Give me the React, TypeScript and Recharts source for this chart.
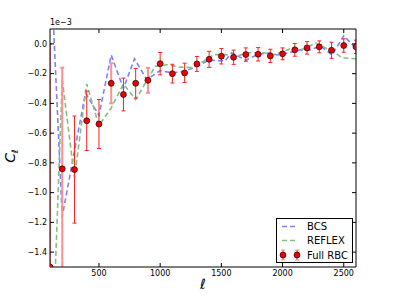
import React from 'react';
import { ComposedChart, Line, Scatter, XAxis, YAxis, ErrorBar, Legend, Label } from 'recharts';

// multipole bins of the Full RBC measurement
const ELL = [100, 200, 300, 400, 500, 600, 700, 800, 900, 1000, 1100, 1200, 1300, 1400, 1500, 1600, 1700, 1800, 1900, 2000, 2100, 2200, 2300, 2400, 2500, 2600];
// C_ell values (in units of 1e-3)
const RBC_CL = [-1.5, -0.84, -0.845, -0.517, -0.539, -0.265, -0.34, -0.265, -0.245, -0.133, -0.2, -0.195, -0.135, -0.104, -0.083, -0.09, -0.072, -0.07, -0.081, -0.067, -0.04, -0.027, -0.02, -0.043, -0.011, -0.02];
const RBC_ERR = [1.5, 0.68, 0.36, 0.2, 0.165, 0.135, 0.11, 0.1, 0.084, 0.075, 0.063, 0.065, 0.05, 0.054, 0.052, 0.048, 0.045, 0.045, 0.045, 0.04, 0.043, 0.042, 0.04, 0.054, 0.045, 0.045];
// bins whose error bars appear in the paler red
const RBC_PALE_BINS = [200, 600, 900];

const BCS_ELL = [100, 200, 300, 390, 500, 600, 700, 790, 890, 1000, 1100, 1200, 1300, 1400, 1530, 1585, 1700, 1800, 1900, 1955, 2050, 2145, 2225, 2310, 2405, 2500, 2600];
const BCS_CL = [0.63, -1.16, -0.72, -0.33, -0.48, -0.075, -0.3, -0.1, -0.24, -0.18, -0.195, -0.185, -0.15, -0.11, -0.115, -0.06, -0.11, -0.07, -0.06, -0.075, -0.06, -0.04, -0.04, -0.015, -0.075, 0.055, -0.03];

const REFLEX_ELL = [100, 200, 300, 400, 500, 600, 700, 800, 960, 1060, 1150, 1260, 1356, 1437, 1530, 1628, 1710, 1845, 1930, 2015, 2080, 2160, 2270, 2350, 2430, 2485, 2600];
const REFLEX_CL = [-2.5, -0.24, -0.9, -0.27, -0.55, -0.43, -0.27, -0.375, -0.15, -0.14, -0.155, -0.16, -0.117, -0.072, -0.072, -0.083, -0.06, -0.06, -0.072, -0.05, -0.027, -0.038, 0.005, -0.027, -0.06, -0.094, -0.1];

const X_TICKS = [500, 1000, 1500, 2000, 2500];
const Y_TICKS = [-1.4, -1.2, -1.0, -0.8, -0.6, -0.4, -0.2, 0.0];
const X_DOMAIN = [100, 2600];
const Y_DOMAIN = [-1.5, 0.1];
const SERIES_NAMES = ['BCS', 'REFLEX', 'Full RBC'];
const OFFSET_TEXT = '1e\u22123';

const rbcData = ELL.map((l, i) => {
  const pale = RBC_PALE_BINS.includes(l);
  return { l, v: RBC_CL[i], errDark: pale ? 0 : RBC_ERR[i], errPale: pale ? RBC_ERR[i] : 0 };
});
const bcsData = BCS_ELL.map((l, i) => ({ l, v: BCS_CL[i] }));
const reflexData = REFLEX_ELL.map((l, i) => ({ l, v: REFLEX_CL[i] }));

const FONT = 'DejaVu Sans';
const BLUE = '#8080ff';
const GREEN = '#80c080';
const RED = '#ff2020';
const PALE = '#ff9090';
const CLIP_ID = 'rbcPlotClip';

const fmtY = (v: number) => (v < 0 ? '\u2212' : '') + Math.abs(v).toFixed(1);

const Dot = (props: any) => {
  const { cx, cy } = props;
  if (cx == null || cy == null) return <g />;
  return <circle cx={cx} cy={cy} r={3} fill="#ee0000" stroke="#000" strokeWidth={0.6} />;
};

const renderLegend = () => (
  <svg width={77} height={45} style={{ display: 'block', fontFamily: FONT }}>
    <rect x={0.5} y={0.5} width={76} height={44} fill="#fff" stroke="#000" strokeWidth={1} />
    <line x1={6} y1={8.5} x2={21} y2={8.5} stroke={BLUE} strokeWidth={1.5} strokeDasharray="5 3" />
    <text x={31} y={12} fontSize={10} fill="#000">{SERIES_NAMES[0]}</text>
    <line x1={6} y1={22.5} x2={21} y2={22.5} stroke={GREEN} strokeWidth={1.5} strokeDasharray="5 3" />
    <text x={31} y={26} fontSize={10} fill="#000">{SERIES_NAMES[1]}</text>
    {[7, 21].map((x) => (
      <g key={x}>
        <line x1={x} y1={32} x2={x} y2={42} stroke={RED} strokeWidth={1} />
        <line x1={x - 2} y1={32} x2={x + 2} y2={32} stroke={PALE} strokeWidth={1} />
        <line x1={x - 2} y1={42} x2={x + 2} y2={42} stroke={PALE} strokeWidth={1} />
        <circle cx={x} cy={37} r={3} fill="#ee0000" stroke="#000" strokeWidth={0.6} />
      </g>
    ))}
    <text x={31} y={40.5} fontSize={10} fill="#000">{SERIES_NAMES[2]}</text>
  </svg>
);

const tickStyle = { fontSize: 8, fill: '#000', fontFamily: FONT };
const emptyTick = () => <g />;

export default function App() {
  return (
    <div style={{ position: 'absolute', left: 0, top: 0, width: 396, height: 297, background: '#fff' }}>
      <style>{`.recharts-scatter, .recharts-errorBar { clip-path: url(#${CLIP_ID}); }`}</style>
      <ComposedChart width={396} height={297} margin={{ top: 28, right: 39, bottom: 0, left: 0 }}>
        <XAxis
          dataKey="l"
          type="number"
          domain={X_DOMAIN}
          ticks={X_TICKS}
          allowDataOverflow
          height={30}
          tickSize={-4}
          tickMargin={7}
          tick={tickStyle}
          axisLine={{ stroke: '#000', strokeWidth: 1 }}
          tickLine={{ stroke: '#000' }}
        >
          <Label
            content={(p: any) => {
              const vb = p.viewBox || {};
              return (
                <g>
                  <defs>
                    <clipPath id={CLIP_ID}>
                      <rect x={vb.x} y={0} width={vb.width} height={vb.y} />
                    </clipPath>
                  </defs>
                  <text x={203} y={289} fontSize={14} fontStyle="italic" textAnchor="middle" fontFamily={FONT} fill="#000">
                    {'\u2113'}
                  </text>
                </g>
              );
            }}
          />
        </XAxis>
        <XAxis
          xAxisId="top"
          orientation="top"
          dataKey="l"
          type="number"
          domain={X_DOMAIN}
          ticks={X_TICKS}
          allowDataOverflow
          height={1}
          tickSize={-4}
          tick={emptyTick}
          axisLine={{ stroke: '#000', strokeWidth: 1 }}
          tickLine={{ stroke: '#000' }}
        />
        <YAxis
          type="number"
          domain={Y_DOMAIN}
          ticks={Y_TICKS}
          allowDataOverflow
          width={50}
          tickSize={-4}
          tickMargin={7}
          tickFormatter={fmtY}
          tick={tickStyle}
          axisLine={{ stroke: '#000', strokeWidth: 1 }}
          tickLine={{ stroke: '#000' }}
        >
          <Label
            content={() => (
              <g>
                <text x={15} y={156} transform="rotate(-90 15 156)" fontSize={14} fontStyle="italic" textAnchor="middle" fontFamily={FONT} fill="#000">
                  C<tspan fontSize={9} dy={3}>{'\u2113'}</tspan>
                </text>
                <text x={50} y={25} fontSize={8} fontFamily={FONT} fill="#000">{OFFSET_TEXT}</text>
              </g>
            )}
          />
        </YAxis>
        <YAxis
          yAxisId="right"
          orientation="right"
          type="number"
          domain={Y_DOMAIN}
          ticks={Y_TICKS}
          allowDataOverflow
          width={1}
          tickSize={-4}
          tick={emptyTick}
          axisLine={{ stroke: '#000', strokeWidth: 1 }}
          tickLine={{ stroke: '#000' }}
        />
        <Line
          data={bcsData}
          dataKey="v"
          name={SERIES_NAMES[0]}
          stroke={BLUE}
          strokeWidth={1.6}
          strokeDasharray="5 3"
          dot={false}
          isAnimationActive={false}
        />
        <Line
          data={reflexData}
          dataKey="v"
          name={SERIES_NAMES[1]}
          stroke={GREEN}
          strokeWidth={1.6}
          strokeDasharray="5 3"
          dot={false}
          isAnimationActive={false}
        />
        <Scatter data={rbcData} dataKey="v" name={SERIES_NAMES[2]} shape={Dot} isAnimationActive={false}>
          <ErrorBar dataKey="errPale" direction="y" stroke={PALE} strokeWidth={2} width={2} isAnimationActive={false} />
          <ErrorBar dataKey="errDark" direction="y" stroke={RED} strokeWidth={1} width={2} isAnimationActive={false} />
        </Scatter>
        <Legend
          layout="horizontal"
          verticalAlign="middle"
          content={renderLegend}
          wrapperStyle={{ position: 'absolute', left: 276, top: 218, width: 77, height: 45 }}
        />
      </ComposedChart>
    </div>
  );
}
